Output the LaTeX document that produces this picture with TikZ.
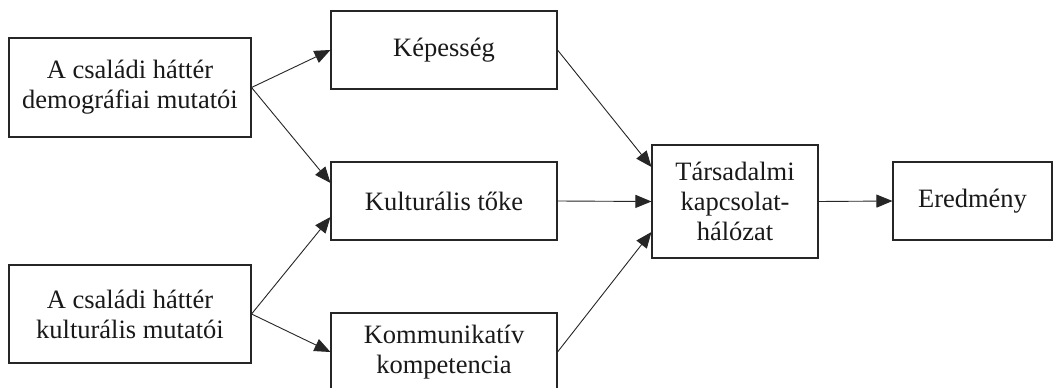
\documentclass[tikz,border=0pt]{standalone}
\usepackage{fontspec}
\setmainfont{Liberation Serif}
\usetikzlibrary{arrows.meta}
\begin{document}
\begin{tikzpicture}[x=1pt,y=-1pt,
  box/.style={draw=black!85,line width=1.1pt,fill=white,inner sep=0pt,align=center,
    font=\fontsize{26.5}{30}\selectfont,text=black!90},
  conn/.style={draw=black!85,line width=0.9pt,-{Triangle[length=16pt,width=13pt]}}]
\clip (0,0) rectangle (1053,388);
\fill[white] (0,0) rectangle (1053,388);
\node[box,minimum width=242pt,minimum height=99pt] (demo) at (130,87.5) {A családi háttér\\demográfiai mutatói};
\node[box,minimum width=242pt,minimum height=98pt] (kult0) at (130,314) {A családi háttér\\kulturális mutatói};
\node[box,minimum width=226pt,minimum height=78pt] (kep) at (444,50) {Képesség};
\node[box,minimum width=226pt,minimum height=78pt] (kult) at (444,201) {Kulturális tőke};
\node[box,minimum width=226pt,minimum height=78pt] (komm) at (444,352) {Kommunikatív\\kompetencia};
\node[box,minimum width=166pt,minimum height=113pt] (tars) at (735,201.5) {Társadalmi\\kapcsolat-\\hálózat};
\node[box,minimum width=159pt,minimum height=78pt] (ered) at (972.5,201) {Eredmény};
\draw[conn] (demo.east) -- (kep.west);
\draw[conn] (demo.east) -- ([yshift=18pt]kult.west);
\draw[conn] (kult0.east) -- ([yshift=-16pt]kult.west);
\draw[conn] (kult0.east) -- (komm.west);
\draw[conn] (kep.east) -- ([yshift=34.5pt]tars.west);
\draw[conn] (kult.east) -- (tars.west);
\draw[conn] (komm.east) -- ([yshift=-30.5pt]tars.west);
\draw[conn] (tars.east) -- (ered.west);
\end{tikzpicture}
\end{document}
